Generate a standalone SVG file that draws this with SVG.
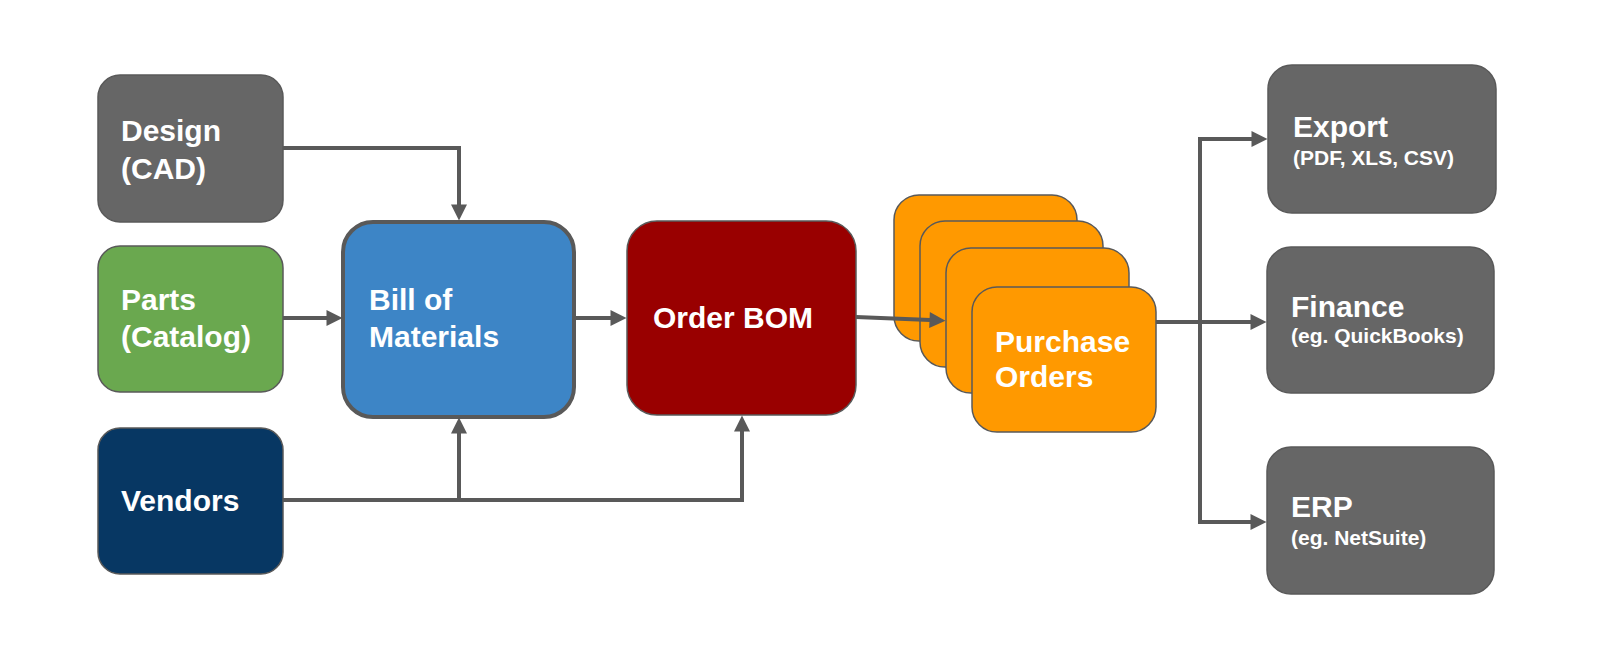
<svg xmlns="http://www.w3.org/2000/svg" width="1600" height="645" viewBox="0 0 1600 645">
  <style>
    .box { stroke: #595959; stroke-width: 1.5; }
    .lbl { font-family: "Liberation Sans", Arial, sans-serif; font-weight: bold; font-size: 30px; fill: #ffffff; }
    .sub { font-family: "Liberation Sans", Arial, sans-serif; font-weight: bold; font-size: 21px; fill: #ffffff; }
    .conn { fill: none; stroke: #595959; stroke-width: 4; }
  </style>
  <defs>
    <marker id="arr" markerUnits="userSpaceOnUse" markerWidth="18" markerHeight="16" refX="0.5" refY="8" orient="auto" overflow="visible">
      <path d="M0,0 L16,8 L0,16 Z" fill="#595959"/>
    </marker>
  </defs>
  <rect width="1600" height="645" fill="#ffffff"/>

  <g id="design">
    <rect class="box" x="98" y="75" width="185" height="147" rx="22" fill="#666666"/>
    <text class="lbl" x="121" y="141">Design</text>
    <text class="lbl" x="121" y="179">(CAD)</text>
  </g>

  <g id="parts">
    <rect class="box" x="98" y="246" width="185" height="146" rx="22" fill="#6aa84f"/>
    <text class="lbl" x="121" y="310">Parts</text>
    <text class="lbl" x="121" y="347">(Catalog)</text>
  </g>

  <g id="vendors">
    <rect class="box" x="98" y="428" width="185" height="146" rx="22" fill="#073763"/>
    <text class="lbl" x="121" y="511">Vendors</text>
  </g>

  <g id="bom">
    <rect x="343" y="222" width="231" height="195" rx="30" fill="#3d85c6" stroke="#595959" stroke-width="4"/>
    <text class="lbl" x="369" y="310">Bill of</text>
    <text class="lbl" x="369" y="347">Materials</text>
  </g>

  <g id="order-bom">
    <rect class="box" x="627" y="221" width="229" height="194" rx="30" fill="#990000"/>
    <text class="lbl" x="653" y="328">Order BOM</text>
  </g>

  <g id="purchase-orders">
    <rect class="box" x="894" y="195" width="183" height="146" rx="25" fill="#ff9900"/>
    <rect class="box" x="920" y="221" width="183" height="146" rx="25" fill="#ff9900"/>
    <rect class="box" x="946" y="248" width="183" height="145" rx="25" fill="#ff9900"/>
    <rect class="box" x="972" y="287" width="184" height="145" rx="25" fill="#ff9900"/>
    <text class="lbl" x="995" y="352">Purchase</text>
    <text class="lbl" x="995" y="387">Orders</text>
  </g>

  <g id="export">
    <rect class="box" x="1268" y="65" width="228" height="148" rx="24" fill="#666666"/>
    <text class="lbl" x="1293" y="137">Export</text>
    <text class="sub" x="1293" y="165">(PDF, XLS, CSV)</text>
  </g>

  <g id="finance">
    <rect class="box" x="1267" y="247" width="227" height="146" rx="24" fill="#666666"/>
    <text class="lbl" x="1291" y="317">Finance</text>
    <text class="sub" x="1291" y="343">(eg. QuickBooks)</text>
  </g>

  <g id="erp">
    <rect class="box" x="1267" y="447" width="227" height="147" rx="24" fill="#666666"/>
    <text class="lbl" x="1291" y="517">ERP</text>
    <text class="sub" x="1291" y="545">(eg. NetSuite)</text>
  </g>

  <g id="connectors">
    <path class="conn" d="M283,148 H459 V205" marker-end="url(#arr)"/>
    <path class="conn" d="M283,318 H327" marker-end="url(#arr)"/>
    <path class="conn" d="M283,500 H742 V431" marker-end="url(#arr)"/>
    <path class="conn" d="M459,500 V433" marker-end="url(#arr)"/>
    <path class="conn" d="M574,318 H611" marker-end="url(#arr)"/>
    <path class="conn" d="M856,317 L930,320" marker-end="url(#arr)"/>
    <path class="conn" d="M1156,322 H1251" marker-end="url(#arr)"/>
    <path class="conn" d="M1200,322 V139 H1252" marker-end="url(#arr)"/>
    <path class="conn" d="M1200,322 V522 H1251" marker-end="url(#arr)"/>
  </g>
</svg>
